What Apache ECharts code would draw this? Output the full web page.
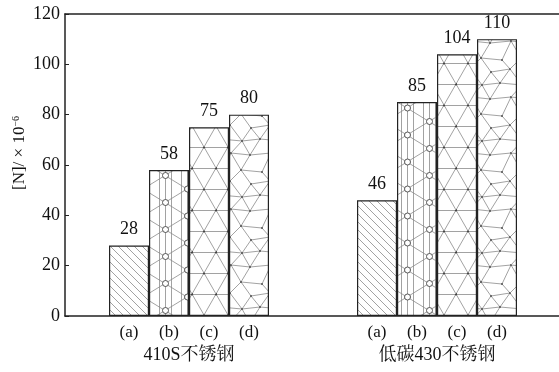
<!DOCTYPE html>
<html><head><meta charset="utf-8">
<script src="https://cdn.jsdelivr.net/npm/echarts@6/dist/echarts.min.js"></script>
<style>html,body{margin:0;padding:0;background:#fff}#c{width:559px;height:372px}</style>
</head><body><div id="c"></div>
<script>
// ---- data ----
const groups = ['410S不锈钢', '低碳430不锈钢'];
const subLabels = ['(a)', '(b)', '(c)', '(d)'];
const valuesA = [28, 46];
const valuesB = [58, 85];
const valuesC = [75, 104];
const valuesD = [80, 110];
const yMin = 0, yMax = 120, yStep = 20;

// ---- pattern helpers (styles only) ----
const LINE = '#8a8a8a';
function mk(w, h) {
  const c = document.createElement('canvas');
  c.width = w; c.height = h;
  const g = c.getContext('2d');
  g.fillStyle = '#fff'; g.fillRect(0, 0, w, h);
  g.strokeStyle = LINE; g.lineWidth = 0.8;
  return [c, g];
}
function copies(w, h, fn) {
  for (const ox of [-w, 0, w]) for (const oy of [-h, 0, h]) fn(ox, oy);
}
function patA() {
  const [c, g] = mk(8, 8);
  copies(8, 8, (ox, oy) => { g.beginPath(); g.moveTo(ox, oy); g.lineTo(ox + 8, oy + 8); g.stroke(); });
  return c;
}
function patB() {
  const W = 44, H = 27, s = 13.5 / 22;
  const [c, g] = mk(W, H);
  [5, 11, 17, 27, 33, 39].forEach(x => { g.beginPath(); g.moveTo(x + 0.5, 0); g.lineTo(x + 0.5, H); g.stroke(); });
  for (let k = -3; k <= 3; k++) {
    g.beginPath(); g.moveTo(-44, s * (-55) + 27 * k); g.lineTo(88, s * 77 + 27 * k); g.stroke();
    g.beginPath(); g.moveTo(-44, -s * (-55) + 27 * k); g.lineTo(88, -s * 77 + 27 * k); g.stroke();
  }
  g.strokeStyle = '#444'; g.lineWidth = 0.9;
  const cs = [[11, 0], [11, 27], [33, 13.5]];
  cs.forEach(([x, y]) => { g.beginPath(); g.arc(x + 0.5, y, 3, 0, Math.PI * 2); g.fillStyle = '#fff'; g.fill(); g.stroke(); });
  return c;
}
function patC() {
  const W = 24, H = 42;
  const [c, g] = mk(W, H);
  copies(W, H, (ox, oy) => {
    g.beginPath(); g.moveTo(ox, oy + 0.5); g.lineTo(ox + W, oy + 0.5); g.stroke();
    g.beginPath(); g.moveTo(ox, oy + 21.5); g.lineTo(ox + W, oy + 21.5); g.stroke();
    g.beginPath(); g.moveTo(ox, oy); g.lineTo(ox + W, oy + H); g.stroke();
    g.beginPath(); g.moveTo(ox + W, oy); g.lineTo(ox, oy + H); g.stroke();
  });
  g.fillStyle = '#444';
  [[0, 0.5], [24, 0.5], [12, 21.5], [0, 42]].forEach(([x, y]) => { g.beginPath(); g.arc(x, y, 1.1, 0, Math.PI * 2); g.fill(); });
  return c;
}
function patD() {
  const W = 40, H = 56;
  const [c, g] = mk(W, H);
  const P = [[1, 2], [22, 4], [11, 16], [30, 13], [2, 29], [20, 27], [10, 43], [31, 41]];
  const E = [[0,1,0,0],[2,3,0,0],[4,5,0,0],[5,4,1,0],[7,6,1,0],[6,7,0,0],
    [0,2,0,0],[0,3,-1,0],[1,3,0,0],
    [2,4,0,0],[3,5,0,0],[3,4,1,0],[2,5,0,0],
    [4,7,-1,0],[5,6,0,0],[4,6,0,0],
    [6,0,0,1],[7,0,1,1],[7,1,0,1]];
  copies(W, H, (ox, oy) => {
    E.forEach(([i, j, dx, dy]) => {
      g.beginPath();
      g.moveTo(ox + P[i][0], oy + P[i][1]);
      g.lineTo(ox + P[j][0] + dx * W, oy + P[j][1] + dy * H);
      g.stroke();
    });
    g.fillStyle = '#555';
    P.forEach(([x, y]) => { g.beginPath(); g.arc(ox + x, oy + y, 1.0, 0, Math.PI * 2); g.fill(); });
  });
  return c;
}
const patterns = [patA(), patB(), patC(), patD()];
const allValues = [valuesA, valuesB, valuesC, valuesD];

const serif = "'Liberation Serif','DejaVu Serif',serif";
const cjk = "'Liberation Serif','Noto Serif CJK SC','Noto Sans CJK SC',serif";

const chart = echarts.init(document.getElementById('c'), null, { renderer: 'canvas' });
chart.setOption({
  animation: false,
  backgroundColor: '#fff',
  grid: { left: 65, right: -2, top: 14, bottom: 56, containLabel: false, outerBoundsMode: 'none' },
  xAxis: [{
    type: 'category',
    data: groups,
    axisLine: { show: true, lineStyle: { color: '#222', width: 1.5 } },
    axisTick: { show: false },
    axisLabel: {
      margin: 7,
      interval: 0,
      formatter: v => subLabels.map(s => '{s|' + s + '}').join('') + '\n{g|' + v + '}',
      rich: {
        s: { width: 40, align: 'center', fontSize: 17, fontFamily: serif, color: '#111', lineHeight: 20 },
        g: { align: 'center', fontSize: 18, fontFamily: cjk, color: '#111', lineHeight: 25 }
      }
    }
  }, {
    type: 'category',
    position: 'top',
    data: groups,
    axisLine: { show: true, lineStyle: { color: '#222', width: 1.5 } },
    axisTick: { show: false },
    axisLabel: { show: false }
  }],
  yAxis: {
    type: 'value',
    min: yMin, max: yMax, interval: yStep,
    name: '[N]/ × 10{sup|−6}',
    nameLocation: 'middle',
    nameGap: 36,
    nameMoveOverlap: false,
    nameTextStyle: {
      fontSize: 17, fontFamily: serif, color: '#111', padding: [0, 0, 0, 24],
      rich: { sup: { fontSize: 10, fontFamily: serif, color: '#111', verticalAlign: 'top', padding: [0, 0, 8, 0] } }
    },
    axisLine: { show: true, lineStyle: { color: '#222', width: 1.5 } },
    axisTick: { show: true, inside: true, length: 4, lineStyle: { color: '#222' } },
    axisLabel: { fontSize: 18, fontFamily: serif, color: '#111', margin: 5 },
    splitLine: { show: false }
  },
  series: allValues.map((vals, i) => ({
    type: 'bar',
    name: subLabels[i],
    data: vals,
    barWidth: 40,
    barGap: '0%',
    itemStyle: { color: { image: patterns[i], repeat: 'repeat' }, borderColor: '#222', borderWidth: 1.2 },
    label: { show: true, position: 'top', distance: 7, fontSize: 18, fontFamily: serif, color: '#111' }
  }))
});
</script></body></html>
